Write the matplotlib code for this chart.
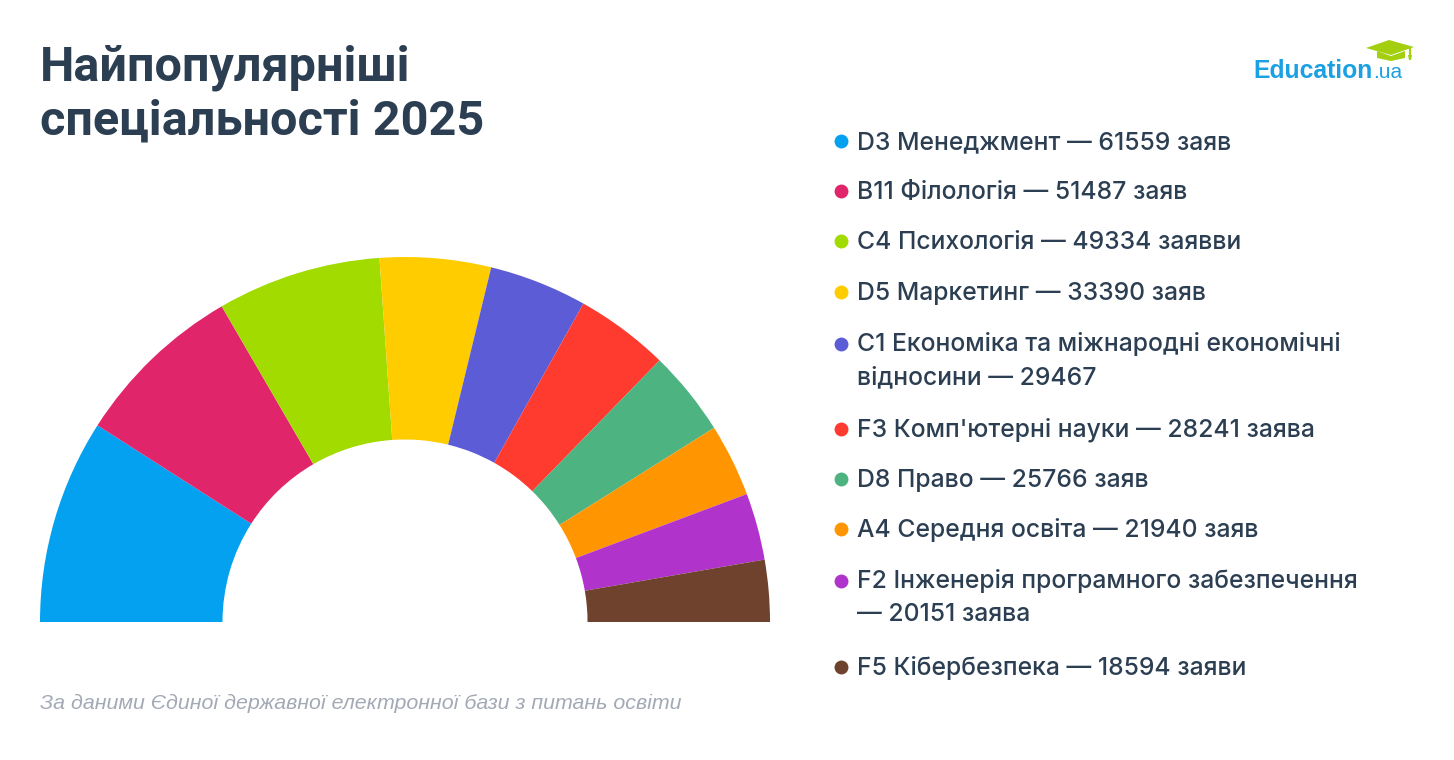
import matplotlib
matplotlib.use("Agg")
import matplotlib.pyplot as plt
from matplotlib.patches import Polygon

plt.rcParams["font.family"] = ["Liberation Sans", "DejaVu Sans"]

W, H = 1454, 760

# data
labels = [
    "D3 Менеджмент — 61559 заяв",
    "B11 Філологія — 51487 заяв",
    "C4 Психологія — 49334 заявви",
    "D5 Маркетинг — 33390 заяв",
    "C1 Економіка та міжнародні економічні\nвідносини — 29467",
    "F3 Комп'ютерні науки — 28241 заява",
    "D8 Право — 25766 заяв",
    "A4 Середня освіта — 21940 заяв",
    "F2 Інженерія програмного забезпечення\n— 20151 заява",
    "F5 Кібербезпека — 18594 заяви",
]
values = [61559, 51487, 49334, 33390, 29467, 28241, 25766, 21940, 20151, 18594]
colors = ["#03A1EF", "#E1256B", "#A1DB00", "#FFCC00", "#5C5CD6",
          "#FF3B30", "#4DB380", "#FF9500", "#B033CC", "#6E422D"]

title = "Найпопулярніші\nспеціальності 2025"
source = "За даними Єдиної державної електронної бази з питань освіти"

dark = "#2C3E52"

fig = plt.figure(figsize=(W / 100, H / 100), dpi=100)
fig.patch.set_facecolor("white")

# half donut: centre (405, 622) px, outer radius 365 px
cx, cy, r = 405, 622, 365
ax = fig.add_axes([(cx - r) / W, (H - cy - r) / H, 2 * r / W, 2 * r / H])
total = sum(values)
ax.pie(values + [total], colors=colors + ["none"], startangle=180,
       counterclock=False, radius=1.0,
       wedgeprops=dict(width=0.5, linewidth=0))
ax.set_xlim(-1, 1)
ax.set_ylim(-1, 1)
ax.set_aspect("equal")
ax.axis("off")

# overlay in pixel coordinates
ov = fig.add_axes([0, 0, 1, 1])
ov.set_xlim(0, W)
ov.set_ylim(H, 0)
ov.axis("off")

# va="baseline" on multi-line text anchors the last line
ov.text(40, 135, title, fontsize=35, fontweight="bold", color=dark,
        family=["Roboto", "DejaVu Sans"], va="baseline", ha="left",
        linespacing=1.22)

# legend
rows_y = [149, 199, 249, 300, 352, 437, 487, 537, 589, 675]
line_h = 32
for lab, col, y in zip(labels, colors, rows_y):
    n_extra = lab.count("\n")
    ov.plot(841, y - 8, "o", ms=10, color=col, mec="none")
    ov.text(857, y + line_h * n_extra, lab, fontsize=17.8, fontweight="medium",
            family=["Inter", "DejaVu Sans"], color=dark,
            va="baseline", ha="left", linespacing=1.55)

ov.text(40, 709, source, fontsize=15.4, style="italic", color="#A3AAB5",
        va="baseline", ha="left")

# logo
logo_blue = "#1BA0E4"
ov.text(1253, 78, "Education", fontsize=17.8, fontweight="bold",
        color=logo_blue, va="baseline", ha="left")
ov.text(1373, 78, ".ua", fontsize=15, color=logo_blue, va="baseline", ha="left")
green = "#A3CF0F"
ov.add_patch(Polygon([[1366, 48], [1389, 40], [1414, 47], [1391, 55]],
                     closed=True, color=green, lw=0))
ov.add_patch(Polygon([[1377, 51], [1377, 58], [1391, 61], [1405, 58], [1405, 51], [1391, 56]],
                     closed=True, color=green, lw=0))
ov.plot([1410, 1410], [48, 55], color=green, lw=1.5)
ov.add_patch(Polygon([[1408, 55], [1412, 55], [1411, 60], [1409, 60]],
                     closed=True, color=green, lw=0))

fig.savefig("out.png", dpi=100, facecolor="white")
